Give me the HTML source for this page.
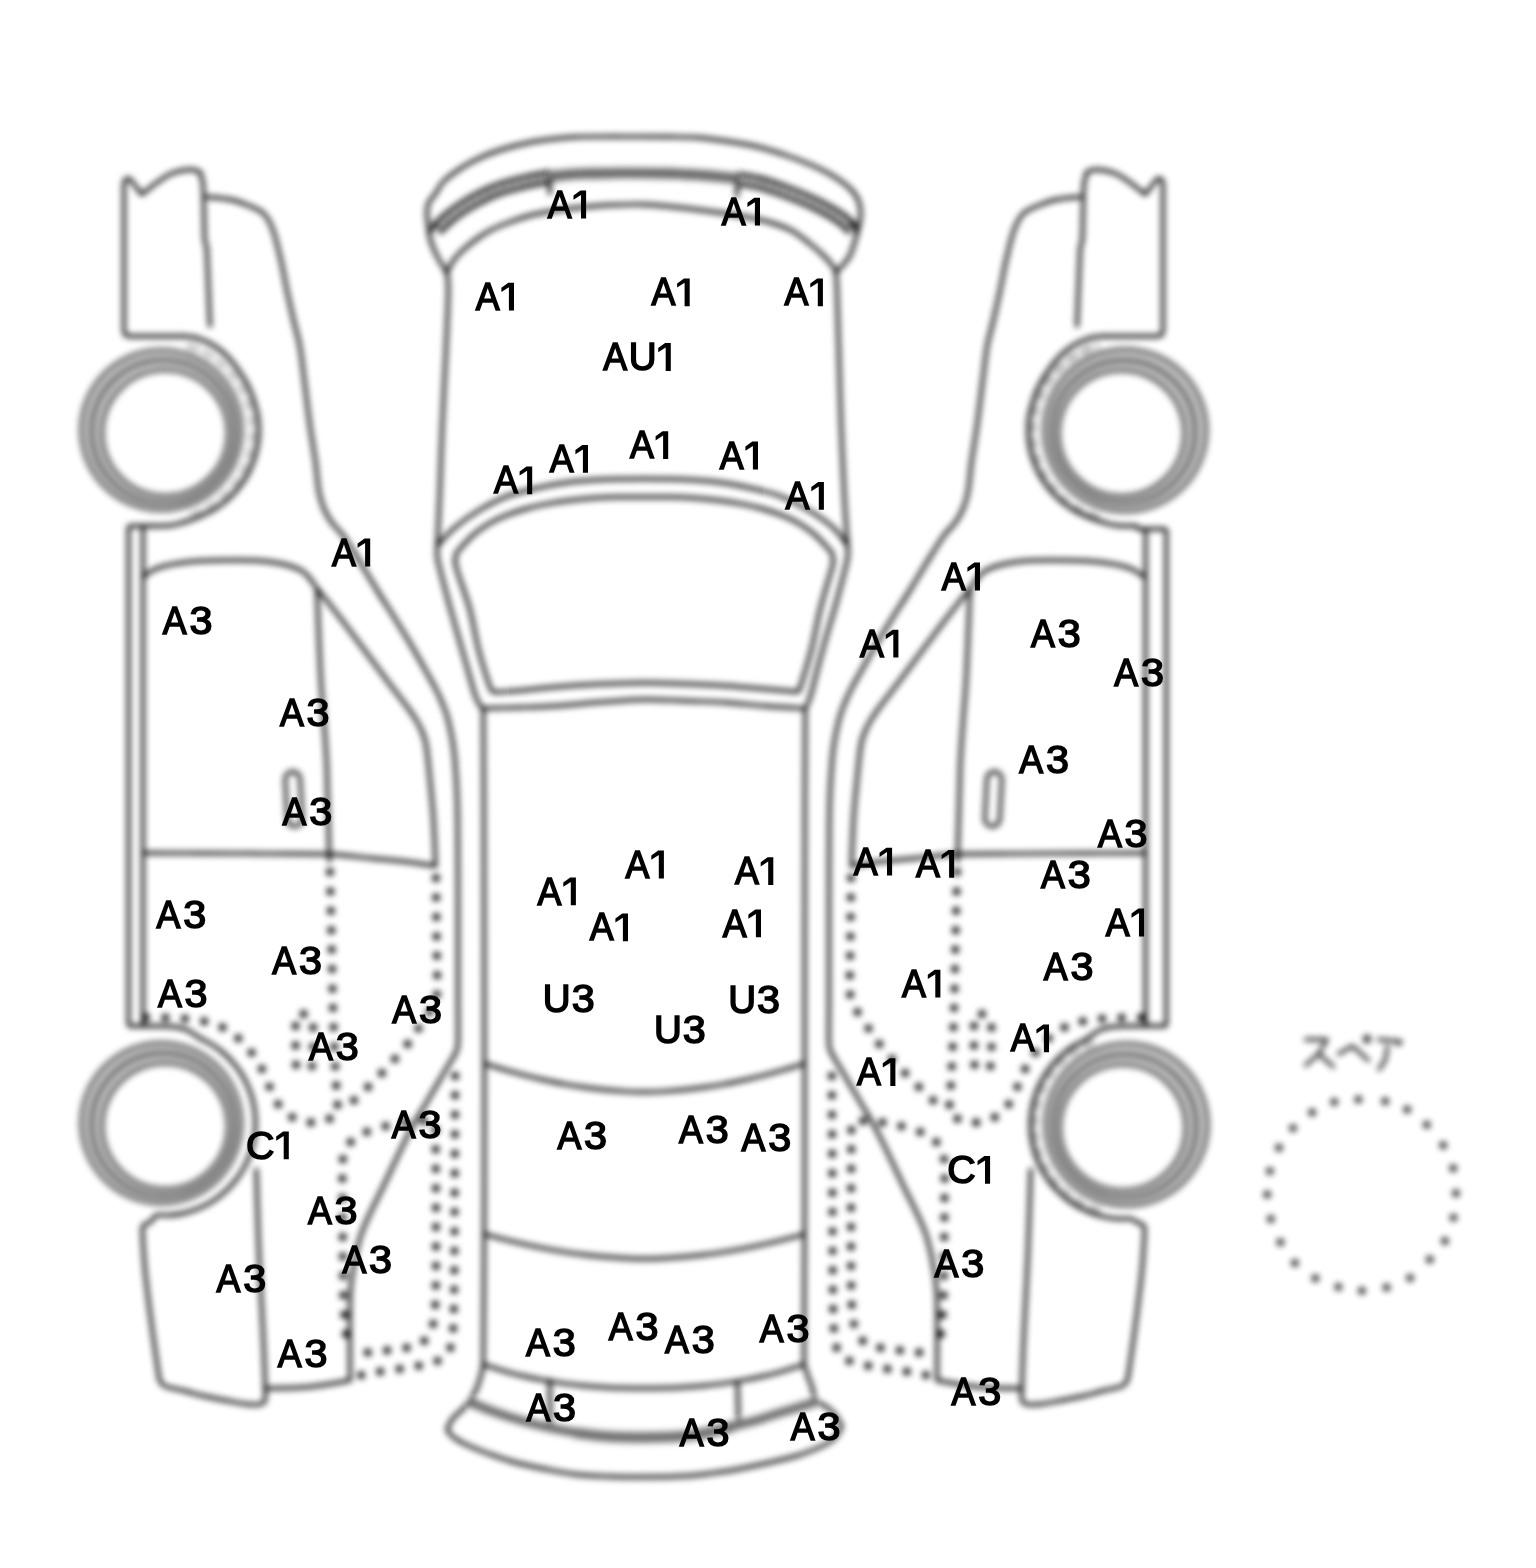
<!DOCTYPE html>
<html><head><meta charset="utf-8"><title>Car inspection diagram</title>
<style>
html,body{margin:0;padding:0;background:#fff}
body{width:1536px;height:1568px;overflow:hidden;font-family:"Liberation Sans",sans-serif}
svg{display:block}
.ln path,.ln .w{fill:none;stroke:#000;stroke-width:3.4;stroke-linecap:round;stroke-linejoin:round}
.ln .dt path,.ln .dot{fill:none;stroke:#000;stroke-width:7.4;stroke-linecap:round;stroke-dasharray:0.01 19.4}
.ln .w2{fill:none;stroke:#000;stroke-width:3.2;stroke-opacity:0.6}
.ln .tk path{stroke-width:10.5;stroke:#6c6c6c;stroke-linecap:butt}
.ln .md path{stroke-width:5.5;stroke:#7c7c7c;stroke-linecap:butt}
.ln .md2 path{stroke-width:9;stroke:#707070;stroke-linecap:butt}
.ln .lt path{stroke-width:8.5;stroke:#000;stroke-opacity:0.42;stroke-linecap:butt;stroke-dasharray:6 2.5}
.sp circle{fill:#000}
.kat path{fill:none;stroke:#000;stroke-width:3.3;stroke-linecap:round;stroke-linejoin:round}
.lb text{font-family:"Liberation Sans",sans-serif;font-size:38.1px;fill:#000;stroke:#000;stroke-width:1.55;stroke-linejoin:miter;stroke-miterlimit:3}
.lb path{fill:#000}
</style></head><body>
<svg width="1536" height="1568" viewBox="0 0 1536 1568">
<defs>
<filter id="b" filterUnits="userSpaceOnUse" x="0" y="0" width="1536" height="1568"><feGaussianBlur stdDeviation="3"/></filter>
<filter id="b2" filterUnits="userSpaceOnUse" x="1200" y="1000" width="336" height="400"><feGaussianBlur stdDeviation="3"/></filter>
<filter id="id" filterUnits="userSpaceOnUse" x="0" y="0" width="1536" height="1568"><feOffset dx="0" dy="0"/></filter>
</defs>
<rect width="1536" height="1568" fill="#fff"/>
<g class="ln" filter="url(#b)" opacity="1">
<g><path d="M200.3,172.1 C198.8,171.7 195.6,169.4 191,169.5 C186.4,169.6 178.4,170.8 173,172.8 C167.6,174.8 163.8,177.7 158.6,181.3 C153.4,184.9 144.5,192.1 141.7,194.3"/>
<path d="M141.7,194.3 L129.5,178.5 L125,179.5 L124,184 L124,330 L125,335 L130,336.2 L184,336.2"/>
<path d="M200.3,172.1 L203.3,185 L204.6,240 L206.8,248 L210,326"/>
<path d="M184,336.2 C186.3,336.6 193.2,336.8 198,338.3 C202.8,339.8 208.2,342.1 213,345 C217.8,347.9 222.7,351.7 227,356 C231.3,360.3 235.3,365.7 239,371 C242.7,376.3 246.3,382.4 249,388 C251.7,393.6 253.4,399.3 255,404.6 C256.6,409.9 257.7,414.6 258.3,420 C258.9,425.4 258.8,431.9 258.6,436.9 C258.3,441.9 257.6,445.6 256.7,449.8 C255.8,454.1 254.5,458.3 253,462.3 C251.6,466.4 249.8,470.4 247.7,474.1 C245.7,477.9 243.4,481.6 240.8,485.1 C238.3,488.5 235.5,491.9 232.5,494.9 C229.5,498 226.3,500.9 222.9,503.5 C219.5,506.1 215.9,508.5 212.2,510.6 C208.5,512.7 203.4,514.9 200.7,516.1 C198,517.4 199,516.9 196,518 C193,519.1 187.3,521.2 183,522.5 C178.7,523.8 175.5,524.9 170,525.5 C164.5,526.1 153.3,525.9 150,526"/>
<path d="M206.8,196.9 C210.7,197.3 223,198 230.2,199.5 C237.3,201 244.1,203.6 249.7,206 C255.3,208.4 260.1,209.7 264,213.8 C267.9,217.9 270.4,222.9 273.2,230.7 C276,238.5 278.6,250.3 281,260.7 C283.4,271.1 285.3,283 287.5,293.2 C289.7,303.4 291.9,313 294,322 C296.1,331 298.2,336.3 300,347 C301.8,357.7 303.3,372.8 305,386 C306.7,399.2 308.2,413.3 310,426 C311.8,438.7 314,451 315.5,462 C317,473 317.5,484 319,492 C320.5,500 322.2,504.8 324.5,510 C326.8,515.2 329.5,519.4 332.5,523.5 C335.5,527.6 338.6,529.4 342.3,534.5 C346.1,539.6 350.8,547.3 355,554 C359.2,560.7 363.5,568 367.7,574.8 C371.9,581.6 375.8,588.2 380,595 C384.2,601.8 388.7,608.5 393,615.4 C397.3,622.3 401.8,629.4 406,636.5 C410.2,643.6 415,651.7 418.5,657.8 C422,663.9 424.2,667.9 427,673 C429.8,678.1 432.9,683.5 435.4,688.3 C437.9,693.1 439.8,697.2 441.8,702 C443.8,706.8 445.6,711 447.3,717 C449,723 450.8,731.2 452,738 C453.2,744.8 453.8,747.7 454.7,758 C455.6,768.3 456.7,784.7 457.2,800 C457.7,815.3 457.7,833.3 457.8,850 C457.9,866.7 458,875 458,900 C458,925 458,976.2 458,1000 C458,1023.8 458.5,1034 458,1043 C457.5,1052 456.7,1050.1 455,1054 C453.3,1057.9 452.1,1058.8 447.6,1066.5 C443.1,1074.2 434.5,1088.8 428,1100 C421.5,1111.2 415.8,1119.8 408.5,1134 C401.2,1148.2 391.8,1168.7 384,1185 C376.2,1201.3 367.2,1217.8 362,1232 C356.8,1246.2 355,1258.3 353,1270 C351,1281.7 350.5,1283.6 350,1302 C349.5,1320.4 350,1367.3 350,1380.4"/>
<path d="M144.5,576 C145.8,575.1 149,572.1 152,570.5 C155,568.9 157.8,567.8 162.5,566.5 C167.2,565.2 173.9,563.9 180,563 C186.1,562.1 190.7,561.5 199,561 C207.3,560.5 219.8,560.3 230,560.3 C240.2,560.2 251.2,560.1 260,560.7 C268.8,561.3 276.2,562.5 283,564 C289.8,565.5 296.2,567.8 300.5,570 C304.8,572.2 306.2,574.4 309,577.5 C311.8,580.6 313.7,584.2 317,588.5 C320.3,592.8 324.8,598.1 329,603.5 C333.2,608.9 338,614.9 342.3,620.6 C346.6,626.3 350.8,631.9 355,637.5 C359.2,643.1 363.5,648.9 367.7,654.5 C371.9,660.1 375.8,665.4 380,671 C384.2,676.6 389.3,683.5 393,688.3 C396.7,693.1 399.2,696.2 402,700 C404.8,703.8 407.5,707.2 410,710.8 C412.5,714.4 415,718 417,721.5 C419,725 420.6,728.1 422,731.5 C423.4,734.9 424.5,737.6 425.5,742 C426.5,746.4 427,750.8 427.8,758 C428.6,765.2 429.6,775.9 430.5,785 C431.4,794.1 432.3,803.3 433,812.5 C433.7,821.7 434.1,831.1 434.5,840 C434.9,848.9 435.3,861.7 435.5,866"/>
<path d="M317,588.5 C317.3,597.1 318.3,624.4 319,640 C319.7,655.6 320.2,668.3 321,682 C321.8,695.7 323.1,709 324,722 C324.9,735 325.8,745.3 326.5,760 C327.2,774.7 327.5,793.2 328,810 C328.5,826.8 329.2,852.5 329.5,861"/>
<path d="M144,853 C153.3,853 179,853.1 200,853.2 C221,853.3 248.3,853.4 270,853.6 C291.7,853.8 313.2,853.5 330,854.3 C346.8,855.1 358.5,857 371,858.2 C383.5,859.4 394.2,860.2 405,861.5 C415.8,862.8 430.4,865.2 435.5,866"/>
<path d="M150,1026 C153.7,1026.1 166,1025.9 172,1026.5 C178,1027.1 181.2,1027.5 186,1029.5 C190.8,1031.5 196.3,1036 200.6,1038.5 C205,1041 208.4,1042.3 212,1044.6 C215.7,1046.8 219.2,1049.4 222.5,1052.1 C225.7,1054.9 228.9,1057.9 231.7,1061.1 C234.6,1064.3 237.3,1067.7 239.7,1071.3 C242.1,1074.8 244.3,1078.6 246.1,1082.5 C248,1086.3 249.6,1090.3 251,1094.4 C252.3,1098.5 253.3,1102.7 254.1,1106.9 C254.8,1111.2 255.3,1115.5 255.4,1119.8 C255.6,1124.1 255.4,1128.4 255,1132.7 C254.5,1136.9 253.8,1141.2 252.8,1145.4 C251.7,1149.5 250.4,1153.7 248.8,1157.7 C247.2,1161.6 245.3,1165.5 243.1,1169.2 C241,1173 238.5,1176.6 235.9,1179.9 C233.2,1183.3 230.3,1186.6 227.3,1189.5 C224.2,1192.5 220.8,1195.3 217.4,1197.8 C213.9,1200.4 210.2,1202.7 206.4,1204.7 C202.6,1206.7 198.7,1208.5 194.6,1209.9 C190.6,1211.4 186.4,1212.6 182.2,1213.5 C178,1214.4 173.7,1215 169.5,1215.3 C165.2,1215.6 159.8,1214.1 156.5,1215.3 C153.3,1216.5 152,1221 150,1222.5 C148,1224 145.8,1223.4 144.5,1224.5 C143.2,1225.6 142.7,1224.8 142.5,1229 C142.3,1233.2 143,1242.2 143.5,1250 C144,1257.8 144.2,1263 145.6,1276 C147,1289 149.8,1311.5 152,1328 C154.2,1344.5 157.5,1367.2 158.6,1375"/>
<path d="M158.6,1375 C158.9,1376.2 159.3,1380.1 160.5,1382 C161.7,1383.9 161.9,1385 166,1386.5 C170.1,1388 178.7,1389.4 185,1391 C191.3,1392.6 197.2,1394.4 204,1396 C210.8,1397.6 219,1399.2 226,1400.5 C233,1401.8 240.5,1403.3 245.8,1404 C251.1,1404.7 254.9,1404.8 258,1404.5 C261.1,1404.2 263.3,1403.4 264.5,1402 C265.7,1400.6 265.2,1397 265.4,1396"/>
<path d="M256.3,1169.5 C256.5,1176.2 257.1,1196.6 257.5,1210 C257.9,1223.4 258.3,1236.7 258.9,1250 C259.4,1263.3 260.1,1277 260.8,1290 C261.5,1303 262.2,1315.5 262.8,1328 C263.4,1340.5 264,1353.7 264.4,1365 C264.8,1376.3 265.2,1390.8 265.4,1396"/>
<path d="M265.4,1388.5 C269.5,1388.4 282.9,1388.2 290,1388 C297.1,1387.8 301.3,1387.7 308,1387 C314.7,1386.3 323,1385.1 330,1384 C337,1382.9 346.7,1381 350,1380.4"/>
<path d="M151,526 L130.1,526 L128.6,527.5 L128.6,1024.5 L130.1,1026 L151,1026"/>
<path d="M143,527 L143,1025"/>
<path d="M1086.7,172.1 C1088.2,171.7 1091.5,169.4 1096,169.5 C1100.5,169.6 1108.6,170.8 1114,172.8 C1119.4,174.8 1123.2,177.7 1128.4,181.3 C1133.6,184.9 1142.5,192.1 1145.3,194.3"/>
<path d="M1145.3,194.3 L1157.5,178.5 L1162,179.5 L1163,184 L1163,330 L1162,335 L1157,336.2 L1103,336.2"/>
<path d="M1086.7,172.1 L1083.7,185 L1082.4,240 L1080.2,248 L1077,326"/>
<path d="M1103,336.2 C1100.7,336.6 1093.8,336.8 1089,338.3 C1084.2,339.8 1078.8,342.1 1074,345 C1069.2,347.9 1064.3,351.7 1060,356 C1055.7,360.3 1051.7,365.7 1048,371 C1044.3,376.3 1040.7,382.4 1038,388 C1035.3,393.6 1033.5,399.3 1032,404.6 C1030.5,409.9 1029.3,414.6 1028.7,420 C1028.1,425.4 1028.2,431.9 1028.4,436.9 C1028.7,441.9 1029.4,445.6 1030.3,449.8 C1031.2,454.1 1032.5,458.3 1034,462.3 C1035.4,466.4 1037.2,470.4 1039.3,474.1 C1041.3,477.9 1043.6,481.6 1046.2,485.1 C1048.7,488.5 1051.5,491.9 1054.5,494.9 C1057.5,498 1060.7,500.9 1064.1,503.5 C1067.5,506.1 1071.1,508.5 1074.8,510.6 C1078.5,512.7 1083.6,514.9 1086.3,516.1 C1089,517.4 1088,516.9 1091,518 C1094,519.1 1099.7,521.2 1104,522.5 C1108.3,523.8 1111.5,524.9 1117,525.5 C1122.5,526.1 1133.7,525.9 1137,526"/>
<path d="M1080.2,196.9 C1076.3,197.3 1064,198 1056.8,199.5 C1049.6,201 1042.9,203.6 1037.3,206 C1031.7,208.4 1026.9,209.7 1023,213.8 C1019.1,217.9 1016.6,222.9 1013.8,230.7 C1011,238.5 1008.4,250.3 1006,260.7 C1003.6,271.1 1001.7,283 999.5,293.2 C997.3,303.4 995.1,313 993,322 C990.9,331 988.8,336.3 987,347 C985.2,357.7 983.7,372.8 982,386 C980.3,399.2 978.8,413.3 977,426 C975.2,438.7 973,451 971.5,462 C970,473 969.5,484 968,492 C966.5,500 964.8,504.8 962.5,510 C960.2,515.2 957.5,519.4 954.5,523.5 C951.5,527.6 948.5,529.4 944.7,534.5 C941,539.6 936.2,547.3 932,554 C927.8,560.7 923.5,568 919.3,574.8 C915.1,581.6 911.2,588.2 907,595 C902.8,601.8 898.3,608.5 894,615.4 C889.7,622.3 885.2,629.4 881,636.5 C876.8,643.6 872,651.7 868.5,657.8 C865,663.9 862.8,667.9 860,673 C857.2,678.1 854.1,683.5 851.6,688.3 C849.1,693.1 847.2,697.2 845.2,702 C843.2,706.8 841.4,711 839.7,717 C838,723 836.2,731.2 835,738 C833.8,744.8 833.2,747.7 832.3,758 C831.4,768.3 830.3,784.7 829.8,800 C829.3,815.3 829.3,833.3 829.2,850 C829.1,866.7 829,875 829,900 C829,925 829,976.2 829,1000 C829,1023.8 828.5,1034 829,1043 C829.5,1052 830.3,1050.1 832,1054 C833.7,1057.9 834.9,1058.8 839.4,1066.5 C843.9,1074.2 852.5,1088.8 859,1100 C865.5,1111.2 871.2,1119.8 878.5,1134 C885.8,1148.2 895.2,1168.7 903,1185 C910.8,1201.3 919.8,1217.8 925,1232 C930.2,1246.2 932,1258.3 934,1270 C936,1281.7 936.5,1283.6 937,1302 C937.5,1320.4 937,1367.3 937,1380.4"/>
<path d="M1142.5,576 C1141.2,575.1 1138,572.1 1135,570.5 C1132,568.9 1129.2,567.8 1124.5,566.5 C1119.8,565.2 1113.1,563.9 1107,563 C1100.9,562.1 1096.3,561.5 1088,561 C1079.7,560.5 1067.2,560.3 1057,560.3 C1046.8,560.2 1035.8,560.1 1027,560.7 C1018.2,561.3 1010.8,562.5 1004,564 C997.2,565.5 990.8,567.8 986.5,570 C982.2,572.2 980.8,574.4 978,577.5 C975.2,580.6 973.3,584.2 970,588.5 C966.7,592.8 962.2,598.1 958,603.5 C953.8,608.9 949,614.9 944.7,620.6 C940.4,626.3 936.2,631.9 932,637.5 C927.8,643.1 923.5,648.9 919.3,654.5 C915.1,660.1 911.2,665.4 907,671 C902.8,676.6 897.7,683.5 894,688.3 C890.3,693.1 887.8,696.2 885,700 C882.2,703.8 879.5,707.2 877,710.8 C874.5,714.4 872,718 870,721.5 C868,725 866.4,728.1 865,731.5 C863.6,734.9 862.5,737.6 861.5,742 C860.5,746.4 860,750.8 859.2,758 C858.4,765.2 857.4,775.9 856.5,785 C855.6,794.1 854.7,803.3 854,812.5 C853.3,821.7 852.9,831.1 852.5,840 C852.1,848.9 851.7,861.7 851.5,866"/>
<path d="M970,588.5 C969.7,597.1 968.7,624.4 968,640 C967.3,655.6 966.8,668.3 966,682 C965.2,695.7 963.9,709 963,722 C962.1,735 961.2,745.3 960.5,760 C959.8,774.7 959.5,793.2 959,810 C958.5,826.8 957.8,852.5 957.5,861"/>
<path d="M1143,853 C1133.7,853 1108,853.1 1087,853.2 C1066,853.3 1038.7,853.4 1017,853.6 C995.3,853.8 973.8,853.5 957,854.3 C940.2,855.1 928.5,857 916,858.2 C903.5,859.4 892.8,860.2 882,861.5 C871.2,862.8 856.6,865.2 851.5,866"/>
<path d="M1137,1026 C1133.3,1026.1 1121,1025.9 1115,1026.5 C1109,1027.1 1105.8,1027.4 1101,1029.5 C1096.2,1031.6 1090.7,1036.5 1086.3,1039.1 C1081.9,1041.8 1078.4,1043 1074.7,1045.3 C1071,1047.6 1067.4,1050.2 1064.1,1053 C1060.7,1055.8 1057.6,1058.9 1054.6,1062.1 C1051.7,1065.3 1049,1068.8 1046.6,1072.4 C1044.1,1076.1 1041.9,1079.9 1040,1083.8 C1038.1,1087.7 1036.4,1091.8 1035.1,1096 C1033.8,1100.1 1032.7,1104.4 1031.9,1108.7 C1031.2,1113 1030.7,1117.4 1030.6,1121.7 C1030.4,1126.1 1030.6,1130.5 1031,1134.8 C1031.5,1139.2 1032.2,1143.5 1033.3,1147.7 C1034.3,1152 1035.7,1156.2 1037.3,1160.2 C1039,1164.3 1040.9,1168.2 1043.1,1172 C1045.3,1175.8 1047.7,1179.4 1050.4,1182.9 C1053.1,1186.3 1056.1,1189.6 1059.2,1192.6 C1062.3,1195.6 1065.7,1198.5 1069.2,1201 C1072.8,1203.6 1076.5,1205.9 1080.4,1208 C1084.2,1210 1088.3,1211.8 1092.4,1213.3 C1096.4,1214.8 1100.7,1216 1105,1216.9 C1109.2,1217.9 1113.6,1218.5 1117.9,1218.8 C1122.3,1219.1 1127.9,1218.1 1131.1,1218.8 C1134.2,1219.4 1135.1,1221.5 1137,1222.5 C1138.9,1223.5 1141.2,1223.4 1142.5,1224.5 C1143.8,1225.6 1144.3,1224.8 1144.5,1229 C1144.7,1233.2 1144,1242.2 1143.5,1250 C1143,1257.8 1142.8,1263 1141.4,1276 C1140,1289 1137.2,1311.5 1135,1328 C1132.8,1344.5 1129.5,1367.2 1128.4,1375"/>
<path d="M1128.4,1375 C1128.1,1376.2 1127.7,1380.1 1126.5,1382 C1125.3,1383.9 1125.1,1385 1121,1386.5 C1116.9,1388 1108.3,1389.4 1102,1391 C1095.7,1392.6 1089.8,1394.4 1083,1396 C1076.2,1397.6 1068,1399.2 1061,1400.5 C1054,1401.8 1046.5,1403.3 1041.2,1404 C1035.9,1404.7 1032.1,1404.8 1029,1404.5 C1025.9,1404.2 1023.7,1403.4 1022.5,1402 C1021.3,1400.6 1021.8,1397 1021.6,1396"/>
<path d="M1030.7,1169.5 C1030.5,1176.2 1029.9,1196.6 1029.5,1210 C1029.1,1223.4 1028.6,1236.7 1028.1,1250 C1027.5,1263.3 1026.8,1277 1026.2,1290 C1025.6,1303 1024.8,1315.5 1024.2,1328 C1023.6,1340.5 1023,1353.7 1022.6,1365 C1022.2,1376.3 1021.8,1390.8 1021.6,1396"/>
<path d="M1021.6,1388.5 C1017.5,1388.4 1004.1,1388.2 997,1388 C989.9,1387.8 985.7,1387.7 979,1387 C972.3,1386.3 964,1385.1 957,1384 C950,1382.9 940.3,1381 937,1380.4"/>
<path d="M1137.6,529 L1164.8,529 L1166.3,530.5 L1166.3,1024.5 L1164.8,1026 L1137.6,1026"/>
<path d="M1145.6,530 L1145.6,1025"/>
<path d="M446.9,272.8 C445.4,270.3 440.2,261.9 438,258 C435.8,254.1 435.2,252.7 433.9,249.4 C432.6,246.1 430.9,241.9 430,238 C429.1,234.1 428.7,230.3 428.2,226 C427.7,221.7 426.9,216 427,212 C427.1,208 427.5,205.2 429,202 C430.5,198.8 433.6,196.4 436,193 C438.4,189.6 439.1,185.8 443.4,181.6 C447.7,177.3 455.5,171.7 462,167.5 C468.5,163.3 475.3,159.8 482.5,156.6 C489.7,153.4 497.2,150.8 505,148.5 C512.8,146.2 521.4,144.1 529.4,142.5 C537.4,140.9 545.2,139.9 553,139 C560.8,138.1 567.6,137.4 576.3,137 C585,136.6 595.4,136.7 605,136.6 C614.6,136.5 623.2,136.6 634,136.6 C644.8,136.6 659.2,136.6 670,136.8 C680.8,137 689.2,137 699,137.8 C708.8,138.6 719.1,140 729,141.5 C738.9,143 749.2,144.8 758.5,147 C767.8,149.2 776.6,152.2 785,155 C793.4,157.8 801.8,161 809,164 C816.2,167 822.3,169.9 828,173 C833.7,176.1 839,179.7 843,182.6 C847,185.5 849.5,187.7 852,190.5 C854.5,193.3 856.6,196.2 858,199.5 C859.4,202.8 860.2,206.3 860.5,210 C860.8,213.7 860.4,218.2 860,221.5 C859.6,224.8 858.8,226.8 858,230 C857.2,233.2 856.3,236.8 855,241 C853.7,245.2 852,251.4 850,255.4 C848,259.4 845.3,262.2 843,265 C840.7,267.8 837.2,270.8 836,272"/>
<path d="M433.4,224.6 C435.5,222.7 441.2,217 445.7,213.4 C450.1,209.8 455.1,206.1 460.1,202.9 C465.1,199.6 470.2,196.6 475.5,193.8 C480.9,191 486.4,188.3 492.1,186.1 C497.7,183.8 503.5,182.1 509.5,180.4 C515.6,178.7 521.5,177.1 528.3,175.6 C535.1,174.2 546.5,172.4 550.1,171.8"/>
<path d="M440.6,232.4 C442.5,230.6 448.1,225.1 452.3,221.6 C456.6,218.2 461.2,214.8 465.9,211.7 C470.6,208.7 475.5,205.8 480.5,203.2 C485.5,200.6 490.6,198 495.9,195.9 C501.3,193.8 506.7,192.3 512.5,190.6 C518.2,188.9 523.9,187.4 530.5,186 C537.1,184.6 548.3,182.8 551.9,182.2"/>
<path d="M737.9,173.8 C741.5,174.4 752,175.5 759.8,177.5 C767.6,179.4 776.3,182.4 784.8,185.5 C793.4,188.6 803.5,192.8 811.2,196.2 C818.8,199.5 824.7,202.6 830.6,205.9 C836.4,209.1 842,212.6 846.2,215.8 C850.4,218.9 854.1,223.2 855.6,224.6"/>
<path d="M736.1,184.2 C739.6,184.8 749.7,185.9 757.2,187.7 C764.7,189.6 772.9,192.5 781.2,195.5 C789.5,198.5 799.5,202.6 806.8,205.8 C814.2,209.1 819.9,212.1 825.4,215.1 C830.9,218.2 836,221.4 839.8,224.2 C843.6,227.1 846.9,231 848.4,232.4"/>
<path d="M550.7,173.3 C554.9,172.9 564.3,171.4 575.8,170.8 C587.4,170.2 605.9,169.9 620,169.8 C634,169.7 646.7,169.8 660.1,170.1 C673.5,170.4 687.3,170.9 700.2,171.8 C713.1,172.7 731.1,174.7 737.3,175.3"/>
<path d="M551.3,179.7 C555.5,179.3 564.7,177.8 576.2,177.2 C587.6,176.6 606.1,176.3 620,176.2 C634,176.1 646.6,176.2 659.9,176.5 C673.2,176.8 687,177.3 699.8,178.2 C712.6,179.1 730.5,181.1 736.7,181.7"/>
<path d="M431,231 L434,227.5 L437,223"/>
<path d="M855,231 L853.5,227 L851,223.5"/>
<path d="M446.9,272.8 C447.9,270.8 450.3,264.8 453,261 C455.7,257.2 458.8,253.8 463,250 C467.2,246.2 473.3,241.3 478,238 C482.7,234.7 485.7,232.7 491,230 C496.3,227.3 503.5,224.4 510,222 C516.5,219.6 522.3,217.4 530,215.5 C537.7,213.6 547.3,211.9 556,210.5 C564.7,209.1 572.7,208.1 582,207.2 C591.3,206.3 601.8,205.4 612,205 C622.2,204.6 632.5,204.2 643,204.5 C653.5,204.8 664.2,205.9 675,207 C685.8,208.1 697.2,209.6 707.7,211 C718.2,212.4 728.1,213.8 738,215.5 C747.9,217.2 758.2,219.1 767,221.5 C775.8,223.9 783.6,226.4 790.6,230 C797.6,233.6 803.6,238.8 809,243 C814.4,247.2 819.2,251.3 823,255 C826.8,258.7 829.8,262.2 832,265 C834.2,267.8 835.3,270.8 836,272"/>
<path d="M549.7,178 L549.7,193.5"/>
<path d="M737,179 L737,196"/>
<path d="M446.9,272.8 C447.1,275.7 448.4,277.1 448.3,290 C448.2,302.9 447,327.5 446,350 C445,372.5 443.4,400 442.3,425 C441.2,450 440.3,479.9 439.5,500 C438.7,520.1 437.8,538.2 437.4,545.8"/>
<path d="M836,272 C836.2,275 836.5,277 837,290 C837.5,303 838.1,327.5 838.8,350 C839.5,372.5 840.1,400 841.1,425 C842.1,450 843.4,479.9 844.5,500 C845.6,520.1 847.1,538.2 847.6,545.8"/>
<path d="M437.4,545.8 C440.1,543 446.8,534.5 453.4,528.8 C460,523 467.8,517.1 476.9,511.6 C486,506.1 496.4,500.2 508.1,495.9 C519.8,491.6 536.1,488.2 547.2,485.8 C558.4,483.4 565.9,482.6 575,481.5 C584.1,480.4 593.6,479.9 601.9,479.5 C610.2,479.1 618,479.1 625,479 C632,478.9 637.7,478.8 644,478.8 C650.3,478.8 656,478.9 663,479 C670,479.1 677.7,479.1 686,479.5 C694.3,479.9 703.8,480.4 713,481.5 C722.2,482.6 729.8,483.6 741,486 C752.2,488.4 768.3,491.7 780,496 C791.7,500.3 801.9,506.1 811,511.6 C820.1,517.1 828.4,523 834.5,528.8 C840.6,534.5 845.4,543 847.6,545.8"/>
<path d="M437.4,545.8 C437.4,547.5 436.9,552.8 437.2,556 C437.5,559.2 437.2,558 439,565.3 C440.8,572.6 444.7,587.9 448,600 C451.3,612.1 455.4,626.5 458.6,637.7 C461.8,648.9 464.4,657.9 467,667 C469.6,676.1 472.4,686.5 474.2,692.3 C476,698.1 476.6,699.3 478,702 C479.4,704.7 481.8,707.4 482.5,708.5"/>
<path d="M847.6,545.8 C847.6,547.5 848.1,552.8 847.8,556 C847.5,559.2 847.8,558 846,565.3 C844.2,572.6 840.3,587.9 837,600 C833.7,612.1 829.2,626.5 826,637.7 C822.8,648.9 820.4,657.9 818,667 C815.6,676.1 813.1,686.5 811.5,692.3 C809.9,698.1 809.5,699.3 808.5,702 C807.5,704.7 805.8,707.4 805.3,708.5"/>
<path d="M482.5,708.5 C488.8,708.3 507.8,707.9 520,707.5 C532.2,707.1 543.5,706.8 556,706 C568.5,705.2 583.9,703.4 595.3,702.5 C606.7,701.6 615.9,701 624.6,700.5 C633.3,700 636.5,699.4 647.4,699.5 C658.3,699.6 677,700.5 690,701 C703,701.5 713,701.7 725.5,702.5 C738,703.3 751.7,705 765,706 C778.3,707 798.6,708.1 805.3,708.5"/>
<path d="M455,561.6 C455.2,560.2 455.5,555.4 456.5,553 C457.5,550.6 459.3,549.7 461.2,547.5 C463.2,545.3 465.4,542.6 468,540 C470.6,537.4 473.1,534.8 476.9,531.9 C480.7,529 485.8,525.4 491,522.5 C496.2,519.6 502.1,517 508.1,514.7 C514.1,512.4 520.5,510.3 527,508.5 C533.5,506.7 539.5,505.2 547.2,503.8 C554.9,502.3 563.9,501 573,500 C582.1,499 593.2,498 601.9,497.5 C610.6,497 618,497.1 625,497 C632,496.9 637.8,497 644.2,497 C650.6,497 656.4,496.9 663.4,497 C670.5,497.1 677.8,497 686.5,497.5 C695.2,498 706.3,499 715.4,500 C724.5,501 733.5,502.3 741.2,503.8 C748.9,505.2 754.9,506.7 761.4,508.5 C767.9,510.3 774.3,512.4 780.3,514.7 C786.3,517 792.2,519.6 797.4,522.5 C802.6,525.4 807.7,529 811.5,531.9 C815.3,534.8 817.8,537.4 820.4,540 C823,542.6 825.2,545.3 827.2,547.5 C829.1,549.7 830.9,550.6 831.9,553 C832.9,555.4 833.2,560.2 833.4,561.6"/>
<path d="M455,561.6 C455.2,562.7 455.8,565.3 456.5,568 C457.2,570.7 457.2,571 459.5,578 C461.8,585 466.9,598.4 470,610 C473.1,621.6 475.5,637.1 478,647.4 C480.5,657.7 483,665.5 485,672 C487,678.5 488.7,683.4 489.8,686.5 C490.9,689.6 490.7,689.5 491.5,690.5 C492.3,691.5 493.9,691.9 494.4,692.2"/>
<path d="M833.4,561.6 C833.2,562.7 832.7,565.3 832,568 C831.3,570.7 831,571 829,578 C827,585 822.8,598.5 820,610 C817.2,621.5 814.5,636.7 812,647 C809.5,657.3 806.9,665.4 805,672 C803.1,678.6 801.4,683.5 800.5,686.5 C799.6,689.5 800.1,689.1 799.5,690 C798.9,690.9 797.5,691.5 797.1,691.8"/>
<path d="M494.4,692.2 C498.7,691.9 509.7,691.4 520,690.5 C530.3,689.6 543.5,688 556,687 C568.5,686 583.9,684.9 595.3,684.3 C606.7,683.7 615.9,683.6 624.6,683.3 C633.3,683 636.5,682.6 647.4,682.7 C658.3,682.8 677,683.5 690,684 C703,684.5 713.8,685 725.5,685.7 C737.2,686.5 748.1,687.5 760,688.5 C771.9,689.5 790.9,691.2 797.1,691.8"/>
<path d="M483.3,708.5 C483.4,723.8 483.6,751.4 483.8,800 C484,848.6 484.2,933.3 484.3,1000 C484.4,1066.7 484.5,1139.1 484.3,1200 C484.1,1260.9 483.5,1337.9 483.3,1365.5"/>
<path d="M805.3,708.5 C805.2,723.8 804.9,751.4 804.8,800 C804.7,848.6 804.6,933.3 804.6,1000 C804.6,1066.7 804.7,1139.3 804.6,1200 C804.5,1260.7 804.1,1336.7 804,1364"/>
<path d="M484.3,1063.4 C487.6,1064.4 497.6,1067.7 504.3,1069.7 C511,1071.6 517.7,1073.5 524.3,1075.2 C531,1076.9 537.7,1078.5 544.4,1080 C551,1081.5 557.7,1082.8 564.4,1084.1 C571,1085.3 577.7,1086.4 584.4,1087.3 C591.1,1088.3 597.7,1089.1 604.4,1089.8 C611.1,1090.5 617.8,1091 624.4,1091.4 C631.1,1091.8 637.8,1092 644.5,1092 C651.1,1092 657.8,1091.8 664.5,1091.4 C671.1,1091 677.8,1090.5 684.5,1089.8 C691.2,1089.1 697.8,1088.3 704.5,1087.3 C711.2,1086.4 717.9,1085.3 724.5,1084.1 C731.2,1082.8 737.9,1081.5 744.5,1080 C751.2,1078.5 757.9,1076.9 764.6,1075.2 C771.2,1073.5 777.9,1071.6 784.6,1069.7 C791.3,1067.7 801.3,1064.4 804.6,1063.4"/>
<path d="M484.3,1234 C487.6,1234.9 497.6,1237.7 504.3,1239.4 C511,1241.1 517.7,1242.7 524.3,1244.2 C531,1245.7 537.7,1247.1 544.4,1248.4 C551,1249.7 557.7,1250.8 564.4,1251.9 C571,1252.9 577.7,1253.9 584.4,1254.7 C591.1,1255.5 597.7,1256.3 604.4,1256.8 C611.1,1257.4 617.8,1257.9 624.4,1258.2 C631.1,1258.5 637.8,1258.8 644.5,1258.8 C651.1,1258.8 657.8,1258.5 664.5,1258.2 C671.1,1257.9 677.8,1257.4 684.5,1256.8 C691.2,1256.3 697.8,1255.5 704.5,1254.7 C711.2,1253.9 717.9,1252.9 724.5,1251.9 C731.2,1250.8 737.9,1249.7 744.5,1248.4 C751.2,1247.1 757.9,1245.7 764.6,1244.2 C771.2,1242.7 777.9,1241.1 784.6,1239.4 C791.3,1237.7 801.3,1234.9 804.6,1234"/>
<path d="M483.3,1364.6 C486.6,1365.6 496.7,1368.9 503.3,1370.8 C510,1372.7 516.7,1374.5 523.4,1376 C530.1,1377.6 536.8,1379 543.4,1380.2 C550.1,1381.4 556.8,1382.5 563.5,1383.4 C570.2,1384.3 576.8,1385.1 583.5,1385.7 C590.2,1386.4 596.9,1386.8 603.6,1387.2 C610.2,1387.6 616.9,1387.8 623.6,1388 C630.3,1388.2 637,1388.2 643.6,1388.2 C650.3,1388.2 657,1388.2 663.7,1388 C670.4,1387.8 677.1,1387.6 683.7,1387.2 C690.4,1386.8 697.1,1386.4 703.8,1385.7 C710.5,1385.1 717.1,1384.3 723.8,1383.4 C730.5,1382.5 737.2,1381.4 743.9,1380.2 C750.5,1379 757.2,1377.6 763.9,1376 C770.6,1374.5 777.3,1372.7 784,1370.8 C790.6,1368.9 800.7,1365.6 804,1364.6"/>
<path d="M483.3,1365.5 C482.9,1367.1 481.9,1371.7 481,1375 C480.1,1378.3 479,1382.4 477.8,1385.6 C476.6,1388.8 475.3,1391.4 474,1394 C472.7,1396.6 471.7,1398.7 470,1401 C468.3,1403.3 466.1,1405.9 464,1408 C461.9,1410.1 459.7,1411.6 457.5,1413.8 C455.3,1415.9 452.7,1418.4 451,1421 C449.3,1423.6 447.9,1428 447.3,1429.4"/>
<path d="M804,1364 C804.6,1365.8 806.2,1371.2 807.5,1375 C808.8,1378.8 811,1383.8 812,1387 C813,1390.2 812.9,1391.7 813.5,1394 C814.1,1396.3 814.2,1399.3 815.5,1401 C816.8,1402.7 819,1402.9 821,1404 C823,1405.1 825,1405.5 827.5,1407.5 C830,1409.5 833.7,1412.9 836,1416 C838.3,1419.1 840.6,1424.3 841.5,1426"/>
<path d="M447.3,1429.4 C447.8,1430.2 448.6,1432.4 450,1434 C451.4,1435.6 453.2,1437.2 456,1439 C458.8,1440.8 461.7,1442.6 467,1445 C472.3,1447.4 480.2,1450.7 488,1453.5 C495.8,1456.3 504.2,1459.4 513.8,1462 C523.2,1464.6 534.6,1466.9 545,1469 C555.4,1471.1 565.2,1473.2 576,1474.5 C586.8,1475.8 598.8,1476.1 610,1476.5 C621.2,1476.9 630.2,1477.1 643,1477 C655.8,1476.9 675.8,1476.6 687,1476 C698.2,1475.4 702.2,1474.5 710,1473.5 C717.8,1472.5 724.6,1471.7 733.8,1470 C742.9,1468.3 754.6,1465.8 765,1463.5 C775.4,1461.2 788,1458.2 796,1456 C804,1453.8 807.8,1452.1 813,1450 C818.2,1447.9 823.5,1445.8 827.5,1443.4 C831.5,1441 834.7,1438.4 837,1435.5 C839.3,1432.6 840.8,1427.6 841.5,1426"/>
<path d="M470,1401 C473.3,1402.3 482.7,1406.3 490,1409 C497.3,1411.7 504.6,1414.2 513.8,1417 C522.9,1419.8 534.6,1423.1 545,1425.5 C555.4,1427.9 565.6,1429.9 576,1431.5 C586.4,1433.1 596.3,1434.2 607.5,1435 C618.7,1435.8 629.8,1436.1 643,1436 C656.2,1435.9 675.8,1435.4 687,1434.5 C698.2,1433.6 702.2,1432.1 710,1430.5 C717.8,1428.9 726.2,1426.5 733.8,1424.7 C741.2,1422.9 748.5,1421.3 755,1419.5 C761.5,1417.7 766.1,1415.8 772.8,1413.8 C779.5,1411.7 787.9,1409.1 795,1407 C802.1,1404.9 812.1,1402 815.5,1401"/>
<path d="M549.5,1380 L550.5,1425"/>
<path d="M737.5,1383 L738.5,1422"/></g>
<g class="dt"><path d="M330,872 C330.2,883.3 331,917.2 331.5,940 C332,962.8 332.3,986.7 333,1009 C333.7,1031.3 334.8,1057 335.6,1074 C336.4,1091 337.6,1104.8 338,1111"/>
<path d="M436,878 C436.1,888.3 436.4,921 436.6,940 C436.8,959 437.6,981 437,992 C436.4,1003 435.8,1000.3 433,1006 C430.2,1011.7 424.1,1019.8 420,1026 C415.9,1032.2 414.7,1035.3 408.5,1043 C402.3,1050.7 391.7,1062.8 383,1072 C374.3,1081.2 363.3,1091.7 356.5,1098 C349.7,1104.3 344.4,1108 342,1110"/>
<path d="M146,1017.5 C150.8,1017.6 166,1017.5 175,1018 C184,1018.5 192.8,1019.2 200,1020.5 C207.2,1021.8 212.8,1023.5 218,1025.5 C223.2,1027.5 226.8,1029.3 231.5,1032.7 C236.2,1036.1 241.7,1041.3 246,1046 C250.3,1050.7 254.2,1055.7 257.5,1061 C260.8,1066.3 263.4,1072.3 266,1078 C268.6,1083.7 270.5,1090 273,1095 C275.5,1100 278,1104.4 281,1108 C284,1111.6 287.2,1114.2 291,1116.5 C294.8,1118.8 299.6,1120.5 304,1121.5 C308.4,1122.5 313.2,1122.9 317.4,1122.5 C321.6,1122.1 325.6,1120.7 329,1119 C332.4,1117.3 336.5,1113.6 338,1112.5"/>
<path d="M424,1121 C420.5,1121.3 409.9,1121.6 403,1122.6 C396.1,1123.6 389.3,1125.1 382.5,1127 C375.7,1128.9 367.6,1131.2 362,1134 C356.4,1136.8 352.2,1140 349,1144 C345.8,1148 344.1,1148.7 343,1158 C341.9,1167.3 342.5,1183 342.5,1200 C342.5,1217 342.8,1243 343,1260 C343.2,1277 343,1289.5 343.5,1302 C344,1314.5 345.2,1326.7 346,1335 C346.8,1343.3 348.1,1349.2 348.5,1352"/>
<path d="M455.2,1076 C455.1,1096.7 454.8,1162.7 454.6,1200 C454.4,1237.3 454.4,1277.5 454,1300 C453.6,1322.5 453.5,1326.2 452.5,1335 C451.5,1343.8 450.8,1348.6 448,1353 C445.2,1357.4 442,1359.2 436,1361.5 C430,1363.8 422.4,1365.2 412,1367 C401.6,1368.8 382.9,1371 373.4,1372.6 C363.9,1374.2 358.1,1375.8 355,1376.5"/>
<path d="M435.6,1130 C435.7,1145 436,1191.7 436,1220 C436,1248.3 436.2,1282 435.5,1300 C434.8,1318 433.9,1321.2 432,1328 C430.1,1334.8 428,1337.8 424,1341 C420,1344.2 416.4,1345.7 408,1347.5 C399.6,1349.3 382.6,1350.7 373.4,1351.8 C364.2,1352.9 356.4,1353.6 353,1354"/>
<path d="M957,872 C956.8,883.3 956,917.2 955.5,940 C955,962.8 954.7,986.7 954,1009 C953.3,1031.3 952.2,1057 951.4,1074 C950.6,1091 949.4,1104.8 949,1111"/>
<path d="M851,878 C850.9,888.3 850.6,921 850.4,940 C850.2,959 849.4,981 850,992 C850.6,1003 851.2,1000.3 854,1006 C856.8,1011.7 862.9,1019.8 867,1026 C871.1,1032.2 872.3,1035.3 878.5,1043 C884.7,1050.7 895.3,1062.8 904,1072 C912.7,1081.2 923.7,1091.7 930.5,1098 C937.3,1104.3 942.6,1108 945,1110"/>
<path d="M1141,1017.5 C1136.2,1017.6 1121,1017.5 1112,1018 C1103,1018.5 1094.2,1019.2 1087,1020.5 C1079.8,1021.8 1074.2,1023.5 1069,1025.5 C1063.8,1027.5 1060.2,1029.3 1055.5,1032.7 C1050.8,1036.1 1045.3,1041.3 1041,1046 C1036.7,1050.7 1032.8,1055.7 1029.5,1061 C1026.2,1066.3 1023.6,1072.3 1021,1078 C1018.4,1083.7 1016.5,1090 1014,1095 C1011.5,1100 1009,1104.4 1006,1108 C1003,1111.6 999.8,1114.2 996,1116.5 C992.2,1118.8 987.4,1120.5 983,1121.5 C978.6,1122.5 973.8,1122.9 969.6,1122.5 C965.4,1122.1 961.4,1120.7 958,1119 C954.6,1117.3 950.5,1113.6 949,1112.5"/>
<path d="M863,1121 C866.5,1121.3 877.1,1121.6 884,1122.6 C890.9,1123.6 897.7,1125.1 904.5,1127 C911.3,1128.9 919.4,1131.2 925,1134 C930.6,1136.8 934.8,1140 938,1144 C941.2,1148 942.9,1148.7 944,1158 C945.1,1167.3 944.5,1183 944.5,1200 C944.5,1217 944.2,1243 944,1260 C943.8,1277 944,1289.5 943.5,1302 C943,1314.5 941.8,1326.7 941,1335 C940.2,1343.3 938.9,1349.2 938.5,1352"/>
<path d="M831.8,1076 C831.9,1096.7 832.2,1162.7 832.4,1200 C832.6,1237.3 832.6,1277.5 833,1300 C833.4,1322.5 833.5,1326.2 834.5,1335 C835.5,1343.8 836.2,1348.6 839,1353 C841.8,1357.4 845,1359.2 851,1361.5 C857,1363.8 864.6,1365.2 875,1367 C885.4,1368.8 904.1,1371 913.6,1372.6 C923.1,1374.2 928.9,1375.8 932,1376.5"/>
<path d="M851.4,1130 C851.3,1145 851,1191.7 851,1220 C851,1248.3 850.8,1282 851.5,1300 C852.2,1318 853.1,1321.2 855,1328 C856.9,1334.8 859,1337.8 863,1341 C867,1344.2 870.6,1345.7 879,1347.5 C887.4,1349.3 904.4,1350.7 913.6,1351.8 C922.8,1352.9 930.6,1353.6 934,1354"/></g>
<rect x="286.2" y="771.5" width="15" height="55" rx="7.5" transform="rotate(-3 293.7 799)" fill="none" stroke="#000" stroke-width="3.2"/>
<rect x="295.6" y="1014" width="17.5" height="56" rx="8" class="dot"/>
<rect x="985.8" y="771.5" width="15" height="55" rx="7.5" transform="rotate(3 993.3 799)" fill="none" stroke="#000" stroke-width="3.2"/>
<rect x="974" y="1014" width="17.5" height="56" rx="8" class="dot"/>
<path d="M161.3,430 m-82,0 a82,82 0 1,0 164,0 a82,82 0 1,0 -164,0 M165.1,433 m-60.5,0 a60.5,60.5 0 1,1 121,0 a60.5,60.5 0 1,1 -121,0" style="fill:#000;fill-opacity:0.25;fill-rule:evenodd;stroke:none"/><circle cx="161.3" cy="430" r="80.5" class="w2"/><circle cx="163.2" cy="431.5" r="71.5" class="w2"/><circle cx="165.1" cy="433" r="62.5" class="w2"/>
<path d="M161.3,1123.1 m-82,0 a82,82 0 1,0 164,0 a82,82 0 1,0 -164,0 M165.1,1126.1 m-60.5,0 a60.5,60.5 0 1,1 121,0 a60.5,60.5 0 1,1 -121,0" style="fill:#000;fill-opacity:0.25;fill-rule:evenodd;stroke:none"/><circle cx="161.3" cy="1123.1" r="80.5" class="w2"/><circle cx="163.2" cy="1124.6" r="71.5" class="w2"/><circle cx="165.1" cy="1126.1" r="62.5" class="w2"/>
<path d="M1125.3,430.3 m-83,0 a83,83 0 1,0 166,0 a83,83 0 1,0 -166,0 M1121.5,433.3 m-60.5,0 a60.5,60.5 0 1,1 121,0 a60.5,60.5 0 1,1 -121,0" style="fill:#000;fill-opacity:0.25;fill-rule:evenodd;stroke:none"/><circle cx="1125.3" cy="430.3" r="81.5" class="w2"/><circle cx="1123.4" cy="431.8" r="71.5" class="w2"/><circle cx="1121.5" cy="433.3" r="62.5" class="w2"/>
<path d="M1126.6,1124.5 m-83,0 a83,83 0 1,0 166,0 a83,83 0 1,0 -166,0 M1122.8,1127.5 m-60.5,0 a60.5,60.5 0 1,1 121,0 a60.5,60.5 0 1,1 -121,0" style="fill:#000;fill-opacity:0.25;fill-rule:evenodd;stroke:none"/><circle cx="1126.6" cy="1124.5" r="81.5" class="w2"/><circle cx="1124.7" cy="1126" r="71.5" class="w2"/><circle cx="1122.8" cy="1127.5" r="62.5" class="w2"/>
<path d="M1098.8,518.5 C1097.3,517.9 1092.6,516.6 1089.6,515.4 C1086.5,514.2 1083.6,512.9 1080.7,511.4 C1077.8,509.9 1075,508.2 1072.3,506.4 C1069.6,504.6 1067,502.6 1064.5,500.6 C1062,498.5 1059.6,496.2 1057.3,493.9 C1055.1,491.5 1053,489.1 1051,486.5 C1049,483.9 1047.2,481.2 1045.5,478.4 C1043.8,475.7 1042.3,472.8 1040.9,469.8 C1039.5,466.9 1038.3,463.8 1037.2,460.8 C1036.2,457.7 1035.3,454.5 1034.6,451.4 C1033.9,448.2 1033.4,445 1033,441.7 C1032.7,438.5 1032.5,435.2 1032.5,432 C1032.5,428.8 1032.7,425.5 1033,422.3 C1033.4,419 1033.9,415.8 1034.6,412.6 C1035.3,409.5 1036.2,406.3 1037.2,403.2 C1038.3,400.2 1039.5,397.1 1040.9,394.2 C1042.3,391.2 1043.8,388.3 1045.5,385.6 C1047.2,382.8 1049,380.1 1051,377.5 C1053,374.9 1055.1,372.5 1057.3,370.1 C1059.6,367.8 1062,365.5 1064.5,363.4 C1067,361.4 1069.6,359.4 1072.3,357.6 C1075,355.8 1077.8,354.1 1080.7,352.6 C1083.6,351.1 1086.5,349.8 1089.6,348.6 C1092.6,347.4 1097.3,346.1 1098.8,345.5" style="fill:none;stroke:#000;stroke-opacity:0.26;stroke-width:9;stroke-linecap:butt;stroke-dasharray:13 3.5"/>
<path d="M1100.3,1212 C1098.8,1211.5 1094.3,1210.2 1091.4,1209 C1088.4,1207.9 1085.5,1206.6 1082.8,1205.2 C1080,1203.8 1077.2,1202.2 1074.6,1200.5 C1072,1198.7 1069.4,1196.9 1067,1194.9 C1064.5,1192.9 1062.2,1190.8 1060,1188.6 C1057.8,1186.3 1055.7,1184 1053.7,1181.5 C1051.7,1179.1 1049.9,1176.5 1048.2,1173.9 C1046.5,1171.2 1044.9,1168.5 1043.5,1165.7 C1042.1,1162.9 1040.8,1160 1039.7,1157 C1038.6,1154.1 1037.7,1151.1 1036.9,1148 C1036.1,1145 1035.5,1141.9 1035,1138.8 C1034.5,1135.7 1034.2,1132.5 1034.1,1129.4 C1033.9,1126.3 1034,1123.1 1034.2,1120 C1034.4,1116.8 1034.7,1113.7 1035.2,1110.6 C1035.8,1107.5 1036.5,1104.4 1037.3,1101.4 C1038.2,1098.4 1039.2,1095.4 1040.3,1092.5 C1041.5,1089.5 1042.8,1086.7 1044.3,1083.9 C1045.7,1081.1 1047.3,1078.4 1049.1,1075.8 C1050.8,1073.2 1052.7,1070.6 1054.7,1068.2 C1056.7,1065.8 1058.9,1063.5 1061.1,1061.3 C1063.4,1059.1 1065.8,1057 1068.2,1055.1 C1070.7,1053.2 1073.3,1051.3 1076,1049.7 C1078.6,1048 1081.4,1046.5 1084.2,1045.1 C1087,1043.7 1091.4,1042 1092.9,1041.4" style="fill:none;stroke:#000;stroke-opacity:0.26;stroke-width:9;stroke-linecap:butt;stroke-dasharray:13 3.5"/>
<path d="M186.9,345.5 C188.4,346 193.1,347.4 196.1,348.5 C199.1,349.7 202,351 204.9,352.5 C207.7,354 210.5,355.6 213.2,357.4 C215.8,359.2 218.4,361.1 220.9,363.2 C223.3,365.3 225.7,367.5 227.9,369.8 C230.2,372.1 232.3,374.6 234.2,377.1 C236.2,379.7 238,382.3 239.7,385.1 C241.3,387.8 242.9,390.7 244.2,393.6 C245.6,396.5 246.8,399.5 247.8,402.6 C248.8,405.6 249.7,408.7 250.4,411.8 C251.1,415 251.6,418.2 252,421.4 C252.3,424.6 252.5,427.8 252.5,431 C252.5,434.2 252.3,437.4 252,440.6 C251.6,443.8 251.1,447 250.4,450.2 C249.7,453.3 248.8,456.4 247.8,459.4 C246.8,462.5 245.6,465.5 244.2,468.4 C242.9,471.3 241.3,474.2 239.7,476.9 C238,479.7 236.2,482.3 234.2,484.9 C232.3,487.4 230.2,489.9 227.9,492.2 C225.7,494.5 223.3,496.7 220.9,498.8 C218.4,500.9 215.8,502.8 213.2,504.6 C210.5,506.4 207.7,508 204.9,509.5 C202,511 199.1,512.3 196.1,513.5 C193.1,514.6 188.4,516 186.9,516.5" style="fill:none;stroke:#000;stroke-opacity:0.2;stroke-width:8;stroke-linecap:butt;stroke-dasharray:13 3.5"/>
<g class="tk"><path d="M551,176.5 C555.2,176.1 564.5,174.6 576,174 C587.5,173.4 606,173.1 620,173 C634,172.9 646.7,173 660,173.3 C673.3,173.6 687.2,174.1 700,175 C712.8,175.9 730.8,177.9 737,178.5"/>
<path d="M576,1433 C581.2,1433.6 596.3,1435.8 607.5,1436.5 C618.7,1437.2 629.8,1437.6 643,1437.5 C656.2,1437.4 675.8,1436.9 687,1436 C698.2,1435.1 702.2,1433.6 710,1432 C717.8,1430.4 729.8,1427.2 733.8,1426.2"/></g>
<g class="md"></g>
<g class="md2"><path d="M470,1402.2 C473.3,1403.5 482.7,1407.5 490,1410.2 C497.3,1412.9 504.6,1415.5 513.8,1418.2 C522.9,1421 534.6,1424.3 545,1426.7 C555.4,1429.1 565.6,1431.1 576,1432.7 C586.4,1434.3 596.3,1435.5 607.5,1436.2 C618.7,1437 629.8,1437.3 643,1437.2 C656.2,1437.1 675.8,1436.6 687,1435.7 C698.2,1434.8 702.2,1433.3 710,1431.7 C717.8,1430.1 726.2,1427.7 733.8,1425.9 C741.2,1424.1 748.5,1422.5 755,1420.7 C761.5,1418.9 766.1,1417 772.8,1415 C779.5,1412.9 787.9,1410.3 795,1408.2 C802.1,1406.1 812.1,1403.2 815.5,1402.2"/></g>
<g class="lt"><path d="M437,228.5 C439,226.7 444.7,221 449,217.5 C453.3,214 458.2,210.5 463,207.3 C467.8,204.1 472.8,201.2 478,198.5 C483.2,195.8 488.5,193.2 494,191 C499.5,188.8 505.1,187.2 511,185.5 C516.9,183.8 522.7,182.2 529.4,180.8 C536.1,179.4 547.4,177.6 551,177"/>
<path d="M737,179 C740.6,179.6 750.8,180.7 758.5,182.6 C766.2,184.5 774.6,187.4 783,190.5 C791.4,193.6 801.5,197.7 809,201 C816.5,204.3 822.3,207.3 828,210.5 C833.7,213.7 839,217 843,220 C847,223 850.5,227.1 852,228.5"/></g>
</g>
<g filter="url(#b2)" opacity="0.85"><g class="sp"><circle cx="1358.4" cy="1099.4" r="3.7"/><circle cx="1385.2" cy="1101.3" r="3.7"/><circle cx="1407.2" cy="1109.5" r="3.7"/><circle cx="1426.8" cy="1124.8" r="3.7"/><circle cx="1443.2" cy="1145.3" r="3.7"/><circle cx="1453.2" cy="1168.3" r="3.7"/><circle cx="1456" cy="1193.2" r="3.7"/><circle cx="1453.5" cy="1217.6" r="3.7"/><circle cx="1444.9" cy="1241" r="3.7"/><circle cx="1429.8" cy="1259.5" r="3.7"/><circle cx="1410.1" cy="1277.9" r="3.7"/><circle cx="1386.6" cy="1287.5" r="3.7"/><circle cx="1361.9" cy="1290.7" r="3.7"/><circle cx="1338.4" cy="1286.9" r="3.7"/><circle cx="1315.4" cy="1278.3" r="3.7"/><circle cx="1294.9" cy="1263" r="3.7"/><circle cx="1280.4" cy="1242.3" r="3.7"/><circle cx="1270.8" cy="1219" r="3.7"/><circle cx="1267.2" cy="1194.5" r="3.7"/><circle cx="1269.9" cy="1171.1" r="3.7"/><circle cx="1279" cy="1147.8" r="3.7"/><circle cx="1293" cy="1128.1" r="3.7"/><circle cx="1312.1" cy="1112.4" r="3.7"/><circle cx="1334.2" cy="1101.9" r="3.7"/></g><g class="kat"><path d="M1305.5,1039.5 L1327,1039.5 L1318.5,1054 L1305.5,1065.5"/><path d="M1319,1054 L1333.5,1067"/><path d="M1338.5,1054 L1352.5,1046 L1368.5,1060.5"/><path d="M1364.5,1039 a2.5,2.5 0 1,0 5,0 a2.5,2.5 0 1,0 -5,0"/><path d="M1378.5,1039.5 L1401,1041.3 L1398,1044.5"/><path d="M1387.5,1046.5 L1385.5,1059.5 L1379,1069.5"/></g></g>
<g class="lb" filter="url(#id)"><text transform="translate(547.8,217.6) scale(0.938,1)">A</text>
<path d="M586.1,218.4 v-27.8 h-5.7 l-6.9,5 v4.2 l7.5,-4.8 v23.4 z" />
<text transform="translate(721.7,224.8) scale(0.938,1)">A</text>
<path d="M760,225.6 v-27.8 h-5.7 l-6.9,5 v4.2 l7.5,-4.8 v23.4 z" />
<text transform="translate(475.7,309.8) scale(0.938,1)">A</text>
<path d="M514,310.6 v-27.8 h-5.7 l-6.9,5 v4.2 l7.5,-4.8 v23.4 z" />
<text transform="translate(651.4,305.4) scale(0.938,1)">A</text>
<path d="M689.7,306.2 v-27.8 h-5.7 l-6.9,5 v4.2 l7.5,-4.8 v23.4 z" />
<text transform="translate(784.6,305.4) scale(0.938,1)">A</text>
<path d="M822.9,306.2 v-27.8 h-5.7 l-6.9,5 v4.2 l7.5,-4.8 v23.4 z" />
<text transform="translate(603.3,370.1) scale(0.938,1)">A</text>
<text transform="translate(628.8,370.1) scale(1.011,1)">U</text>
<path d="M670.8,370.9 v-27.8 h-5.7 l-6.9,5 v4.2 l7.5,-4.8 v23.4 z" />
<text transform="translate(493.9,493.4) scale(0.938,1)">A</text>
<path d="M532.2,494.2 v-27.8 h-5.7 l-6.9,5 v4.2 l7.5,-4.8 v23.4 z" />
<text transform="translate(549.7,472) scale(0.938,1)">A</text>
<path d="M588,472.8 v-27.8 h-5.7 l-6.9,5 v4.2 l7.5,-4.8 v23.4 z" />
<text transform="translate(629.9,458.2) scale(0.938,1)">A</text>
<path d="M668.2,459 v-27.8 h-5.7 l-6.9,5 v4.2 l7.5,-4.8 v23.4 z" />
<text transform="translate(719.7,468.6) scale(0.938,1)">A</text>
<path d="M758,469.4 v-27.8 h-5.7 l-6.9,5 v4.2 l7.5,-4.8 v23.4 z" />
<text transform="translate(785.6,509) scale(0.938,1)">A</text>
<path d="M823.9,509.8 v-27.8 h-5.7 l-6.9,5 v4.2 l7.5,-4.8 v23.4 z" />
<text transform="translate(331.9,565.6) scale(0.938,1)">A</text>
<path d="M370.2,566.4 v-27.8 h-5.7 l-6.9,5 v4.2 l7.5,-4.8 v23.4 z" />
<text transform="translate(162.7,633.7) scale(0.938,1)">A</text>
<text transform="translate(189.4,633.7) scale(1.085,1)">3</text>
<text transform="translate(279.9,725.8) scale(0.938,1)">A</text>
<text transform="translate(306.6,725.8) scale(1.085,1)">3</text>
<text transform="translate(282.5,824.7) scale(0.938,1)">A</text>
<text transform="translate(309.2,824.7) scale(1.085,1)">3</text>
<text transform="translate(156.6,927.7) scale(0.938,1)">A</text>
<text transform="translate(183.3,927.7) scale(1.085,1)">3</text>
<text transform="translate(272.3,974) scale(0.938,1)">A</text>
<text transform="translate(299,974) scale(1.085,1)">3</text>
<text transform="translate(157.9,1007.2) scale(0.938,1)">A</text>
<text transform="translate(184.6,1007.2) scale(1.085,1)">3</text>
<text transform="translate(392.3,1022.8) scale(0.938,1)">A</text>
<text transform="translate(419,1022.8) scale(1.085,1)">3</text>
<text transform="translate(309,1060) scale(0.938,1)">A</text>
<text transform="translate(335.7,1060) scale(1.085,1)">3</text>
<text transform="translate(391.7,1137.7) scale(0.938,1)">A</text>
<text transform="translate(418.4,1137.7) scale(1.085,1)">3</text>
<text transform="translate(245.9,1158.5) scale(1.036,1)">C</text>
<path d="M288.8,1159.3 v-27.8 h-5.7 l-6.9,5 v4.2 l7.5,-4.8 v23.4 z" />
<text transform="translate(307.9,1224.4) scale(0.938,1)">A</text>
<text transform="translate(334.6,1224.4) scale(1.085,1)">3</text>
<text transform="translate(342.4,1273.4) scale(0.938,1)">A</text>
<text transform="translate(369.1,1273.4) scale(1.085,1)">3</text>
<text transform="translate(216.6,1292.4) scale(0.938,1)">A</text>
<text transform="translate(243.3,1292.4) scale(1.085,1)">3</text>
<text transform="translate(277.8,1367.1) scale(0.938,1)">A</text>
<text transform="translate(304.5,1367.1) scale(1.085,1)">3</text>
<text transform="translate(537.6,904.5) scale(0.938,1)">A</text>
<path d="M575.9,905.3 v-27.8 h-5.7 l-6.9,5 v4.2 l7.5,-4.8 v23.4 z" />
<text transform="translate(625.6,877.6) scale(0.938,1)">A</text>
<path d="M663.9,878.4 v-27.8 h-5.7 l-6.9,5 v4.2 l7.5,-4.8 v23.4 z" />
<text transform="translate(735,884.2) scale(0.938,1)">A</text>
<path d="M773.3,885 v-27.8 h-5.7 l-6.9,5 v4.2 l7.5,-4.8 v23.4 z" />
<text transform="translate(589.7,940.4) scale(0.938,1)">A</text>
<path d="M628,941.2 v-27.8 h-5.7 l-6.9,5 v4.2 l7.5,-4.8 v23.4 z" />
<text transform="translate(722.7,936.5) scale(0.938,1)">A</text>
<path d="M761,937.3 v-27.8 h-5.7 l-6.9,5 v4.2 l7.5,-4.8 v23.4 z" />
<text transform="translate(542.8,1012) scale(1.011,1)">U</text>
<text transform="translate(571.7,1012) scale(1.085,1)">3</text>
<text transform="translate(728.2,1013.1) scale(1.011,1)">U</text>
<text transform="translate(757.1,1013.1) scale(1.085,1)">3</text>
<text transform="translate(653.9,1042.5) scale(1.011,1)">U</text>
<text transform="translate(682.8,1042.5) scale(1.085,1)">3</text>
<text transform="translate(557.4,1149.1) scale(0.938,1)">A</text>
<text transform="translate(584.1,1149.1) scale(1.085,1)">3</text>
<text transform="translate(679,1143.4) scale(0.938,1)">A</text>
<text transform="translate(705.7,1143.4) scale(1.085,1)">3</text>
<text transform="translate(741.5,1150.7) scale(0.938,1)">A</text>
<text transform="translate(768.2,1150.7) scale(1.085,1)">3</text>
<text transform="translate(526,1356.1) scale(0.938,1)">A</text>
<text transform="translate(552.7,1356.1) scale(1.085,1)">3</text>
<text transform="translate(608.7,1340) scale(0.938,1)">A</text>
<text transform="translate(635.4,1340) scale(1.085,1)">3</text>
<text transform="translate(665,1352.7) scale(0.938,1)">A</text>
<text transform="translate(691.7,1352.7) scale(1.085,1)">3</text>
<text transform="translate(759.7,1342) scale(0.938,1)">A</text>
<text transform="translate(786.4,1342) scale(1.085,1)">3</text>
<text transform="translate(526.4,1420.7) scale(0.938,1)">A</text>
<text transform="translate(553.1,1420.7) scale(1.085,1)">3</text>
<text transform="translate(679.8,1445.8) scale(0.938,1)">A</text>
<text transform="translate(706.5,1445.8) scale(1.085,1)">3</text>
<text transform="translate(790.7,1439.7) scale(0.938,1)">A</text>
<text transform="translate(817.4,1439.7) scale(1.085,1)">3</text>
<text transform="translate(941.7,589.6) scale(0.938,1)">A</text>
<path d="M980,590.4 v-27.8 h-5.7 l-6.9,5 v4.2 l7.5,-4.8 v23.4 z" />
<text transform="translate(860.1,656.8) scale(0.938,1)">A</text>
<path d="M898.4,657.6 v-27.8 h-5.7 l-6.9,5 v4.2 l7.5,-4.8 v23.4 z" />
<text transform="translate(1031,646.9) scale(0.938,1)">A</text>
<text transform="translate(1057.7,646.9) scale(1.085,1)">3</text>
<text transform="translate(1114.3,686.2) scale(0.938,1)">A</text>
<text transform="translate(1141,686.2) scale(1.085,1)">3</text>
<text transform="translate(1019.3,773.4) scale(0.938,1)">A</text>
<text transform="translate(1046,773.4) scale(1.085,1)">3</text>
<text transform="translate(1097.9,846.9) scale(0.938,1)">A</text>
<text transform="translate(1124.6,846.9) scale(1.085,1)">3</text>
<text transform="translate(853.8,874.7) scale(0.938,1)">A</text>
<path d="M892.1,875.5 v-27.8 h-5.7 l-6.9,5 v4.2 l7.5,-4.8 v23.4 z" />
<text transform="translate(915.9,876.9) scale(0.938,1)">A</text>
<path d="M954.2,877.7 v-27.8 h-5.7 l-6.9,5 v4.2 l7.5,-4.8 v23.4 z" />
<text transform="translate(1041,888.3) scale(0.938,1)">A</text>
<text transform="translate(1067.7,888.3) scale(1.085,1)">3</text>
<text transform="translate(1105.8,935.6) scale(0.938,1)">A</text>
<path d="M1144.1,936.4 v-27.8 h-5.7 l-6.9,5 v4.2 l7.5,-4.8 v23.4 z" />
<text transform="translate(1043.8,979.8) scale(0.938,1)">A</text>
<text transform="translate(1070.5,979.8) scale(1.085,1)">3</text>
<text transform="translate(902.1,996.8) scale(0.938,1)">A</text>
<path d="M940.4,997.6 v-27.8 h-5.7 l-6.9,5 v4.2 l7.5,-4.8 v23.4 z" />
<text transform="translate(1010.7,1051.4) scale(0.938,1)">A</text>
<path d="M1049,1052.2 v-27.8 h-5.7 l-6.9,5 v4.2 l7.5,-4.8 v23.4 z" />
<text transform="translate(857.1,1085.3) scale(0.938,1)">A</text>
<path d="M895.4,1086.1 v-27.8 h-5.7 l-6.9,5 v4.2 l7.5,-4.8 v23.4 z" />
<text transform="translate(947.2,1183) scale(1.036,1)">C</text>
<path d="M990.1,1183.8 v-27.8 h-5.7 l-6.9,5 v4.2 l7.5,-4.8 v23.4 z" />
<text transform="translate(934.6,1276.8) scale(0.938,1)">A</text>
<text transform="translate(961.3,1276.8) scale(1.085,1)">3</text>
<text transform="translate(951.5,1405.2) scale(0.938,1)">A</text>
<text transform="translate(978.2,1405.2) scale(1.085,1)">3</text></g>
</svg>
</body></html>
